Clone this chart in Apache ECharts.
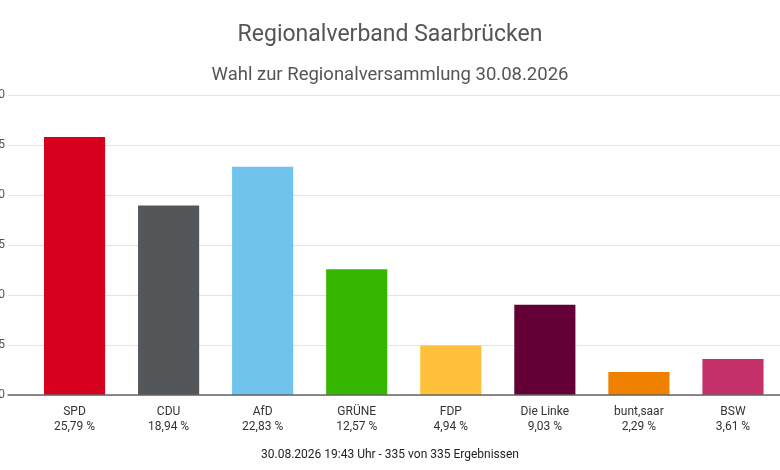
<!DOCTYPE html>
<html><head><meta charset="utf-8">
<script src="https://cdn.jsdelivr.net/npm/echarts@6/dist/echarts.min.js"></script>
<style>html,body{margin:0;padding:0;background:#fff}#c{width:780px;height:470px}</style>
</head><body><div id="c"></div>
<script>
const categories = ['SPD','CDU','AfD','GRÜNE','FDP','Die Linke','bunt,saar','BSW'];
const values = [25.79, 18.94, 22.83, 12.57, 4.94, 9.03, 2.29, 3.61];
const colors = ['#d7001f','#54575a','#6fc3ec','#35b700','#ffc13b','#650037','#f08000','#c4306a'];
const yTicks = [0, 5, 10, 15, 20, 25, 30];
const titleText = 'Regionalverband Saarbrücken';
const subtitleText = 'Wahl zur Regionalversammlung 30.08.2026';
const footerText = '30.08.2026 19:43 Uhr - 335 von 335 Ergebnissen';

const fmt = v => v.toFixed(2).replace('.', ',') + ' %';
const chart = echarts.init(document.getElementById('c'));
chart.setOption({
  animation: false,
  textStyle: {fontFamily: 'Roboto'},
  title: [
    {text: titleText, left: 'center', top: 19, textStyle: {fontSize: 23, fontWeight: 'normal', color: '#555', fontFamily: 'Roboto'}},
    {text: subtitleText, left: 'center', top: 61, textStyle: {fontSize: 18.5, fontWeight: 'normal', color: '#555', fontFamily: 'Roboto'}},
    {text: footerText, left: 'center', top: 444, textStyle: {fontSize: 12, fontWeight: 'normal', color: '#222', fontFamily: 'Roboto'}}
  ],
  grid: [
    {left: 8, right: 0, top: 95, bottom: 75, outerBoundsMode: 'none', containLabel: false},
    {left: 27.5, right: 0, top: 95, bottom: 75, outerBoundsMode: 'none', containLabel: false}
  ],
  xAxis: [
    {type: 'category', gridIndex: 0, data: categories, axisTick: {show: false}, axisLabel: {show: false},
     axisLine: {lineStyle: {color: '#666', width: 1.5}}, z: 10},
    {type: 'category', gridIndex: 1, data: categories, axisTick: {show: false}, axisLine: {show: false},
     axisLabel: {interval: 0, margin: 9, color: '#333', fontSize: 12, lineHeight: 15,
       formatter: (v, i) => v + '\n' + fmt(values[i])}}
  ],
  yAxis: [
    {type: 'value', gridIndex: 0, min: yTicks[0], max: yTicks[yTicks.length-1], interval: 5,
     axisLabel: {color: '#555', fontSize: 12, margin: 3}, axisLine: {show: false}, axisTick: {show: false},
     splitLine: {lineStyle: {color: '#e3e3e3', width: 1}}},
    {type: 'value', gridIndex: 1, min: yTicks[0], max: yTicks[yTicks.length-1], interval: 5,
     axisLabel: {show: false}, axisLine: {show: false}, axisTick: {show: false}, splitLine: {show: false}}
  ],
  series: [{
    type: 'bar', xAxisIndex: 1, yAxisIndex: 1, barCategoryGap: '35%',
    data: values.map((v, i) => ({value: v, itemStyle: {color: colors[i]}}))
  }]
});
</script></body></html>
